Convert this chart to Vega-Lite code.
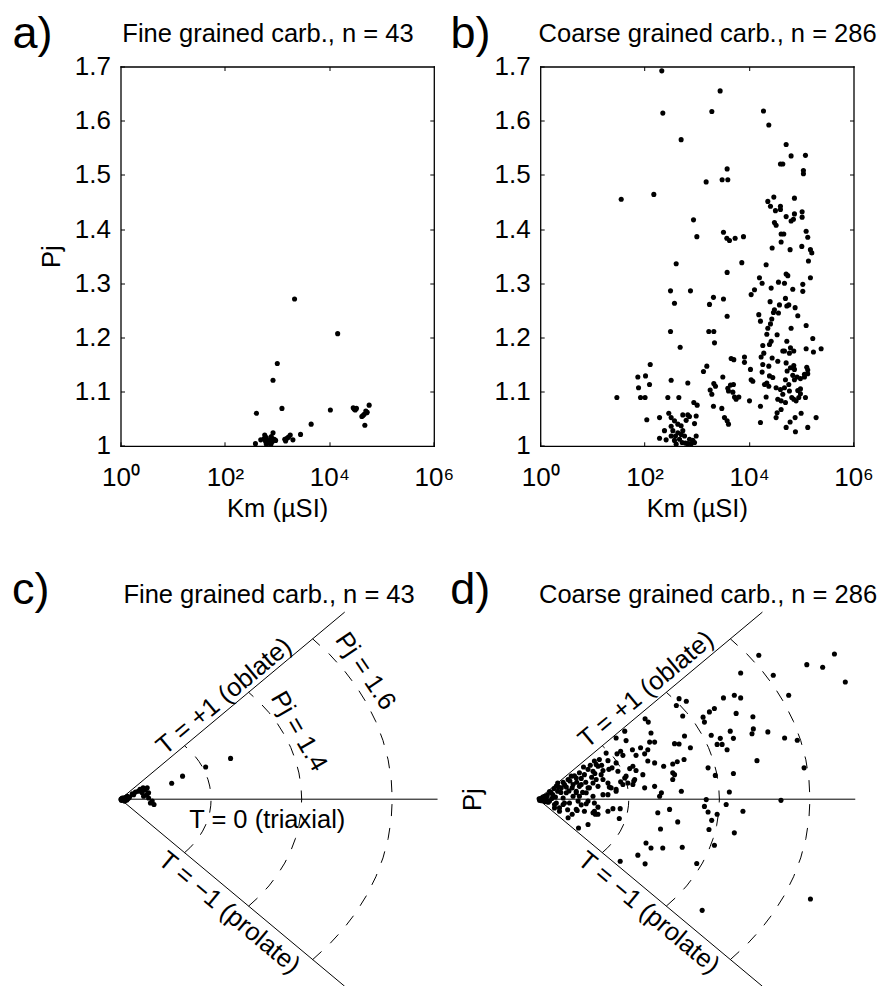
{
"$schema": "https://vega.github.io/schema/vega-lite/v6.json",
"padding": {"left": 11.5, "top": 11.5, "right": 5, "bottom": 0},
"background": "white",
"config": {
 "font": "Liberation Sans",
 "view": {"stroke": null},
 "axis": {"labelFont": "Liberation Sans", "labelFontSize": 26, "labelColor": "black", "titleFont": "Liberation Sans", "titleFontSize": 25.5, "titleFontWeight": "normal", "titleColor": "black", "domainColor": "black", "domainWidth": 1.3, "domainCap": "square", "tickColor": "black", "tickWidth": 1, "tickSize": -4, "grid": false},
 "text": {"font": "Liberation Sans", "fontSize": 25.5, "color": "black"}
},
"datasets": {
 "fine_km": [{"km":2154,"pj":1.271},{"km":14420,"pj":1.207},{"km":1007,"pj":1.152},{"km":833,"pj":1.121},{"km":401,"pj":1.06},{"km":1236,"pj":1.069},{"km":10450,"pj":1.066},{"km":4477,"pj":1.04},{"km":2805,"pj":1.021},{"km":28640,"pj":1.07},{"km":31270,"pj":1.066},{"km":29800,"pj":1.068},{"km":57800,"pj":1.075},{"km":49900,"pj":1.064},{"km":46400,"pj":1.058},{"km":41900,"pj":1.054},{"km":51600,"pj":1.061},{"km":47800,"pj":1.038},{"km":384,"pj":1.004},{"km":485,"pj":1.011},{"km":578,"pj":1.02},{"km":622,"pj":1.015},{"km":650,"pj":1.006},{"km":719,"pj":1.01},{"km":774,"pj":1.017},{"km":834,"pj":1.024},{"km":809,"pj":1.008},{"km":935,"pj":1.01},{"km":1452,"pj":1.009},{"km":1538,"pj":1.014},{"km":1782,"pj":1.02},{"km":2004,"pj":1.011},{"km":622,"pj":1.003},{"km":700,"pj":1.005},{"km":560,"pj":1.013},{"km":880,"pj":1.012},{"km":1400,"pj":1.012},{"km":33000,"pj":1.069},{"km":44000,"pj":1.056},{"km":53000,"pj":1.062},{"km":760,"pj":1.003},{"km":600,"pj":1.008},{"km":1650,"pj":1.016}],
 "coarse_km": [{"km":213,"pj":1.692},{"km":223,"pj":1.614},{"km":2793,"pj":1.655},{"km":1936,"pj":1.617},{"km":500,"pj":1.565},{"km":35.6,"pj":1.455},{"km":150,"pj":1.464},{"km":1507,"pj":1.487},{"km":3048,"pj":1.491},{"km":3917,"pj":1.491},{"km":3802,"pj":1.511},{"km":863,"pj":1.417},{"km":1000,"pj":1.386},{"km":3236,"pj":1.394},{"km":3750,"pj":1.383},{"km":4217,"pj":1.379},{"km":5408,"pj":1.383},{"km":7816,"pj":1.386},{"km":18880,"pj":1.618},{"km":23880,"pj":1.592},{"km":51290,"pj":1.556},{"km":63830,"pj":1.535},{"km":120200,"pj":1.536},{"km":39900,"pj":1.52},{"km":44260,"pj":1.52},{"km":109900,"pj":1.508},{"km":109900,"pj":1.502},{"km":22860,"pj":1.451},{"km":25700,"pj":1.442},{"km":29790,"pj":1.459},{"km":31990,"pj":1.434},{"km":39900,"pj":1.436},{"km":39900,"pj":1.442},{"km":73960,"pj":1.457},{"km":51290,"pj":1.423},{"km":63830,"pj":1.415},{"km":70790,"pj":1.418},{"km":73960,"pj":1.428},{"km":103800,"pj":1.432},{"km":103800,"pj":1.422},{"km":30620,"pj":1.412},{"km":32960,"pj":1.407},{"km":41110,"pj":1.391},{"km":46240,"pj":1.391},{"km":41110,"pj":1.376},{"km":123900,"pj":1.396},{"km":133000,"pj":1.385},{"km":27670,"pj":1.365},{"km":61090,"pj":1.362},{"km":102300,"pj":1.368},{"km":149600,"pj":1.362},
 {"km":402,"pj":1.336},{"km":313,"pj":1.286},{"km":373,"pj":1.263},{"km":755,"pj":1.286},{"km":313,"pj":1.211},{"km":479,"pj":1.182},{"km":128,"pj":1.15},{"km":74.1,"pj":1.127},{"km":104,"pj":1.129},{"km":124,"pj":1.113},{"km":76.4,"pj":1.107},{"km":83.4,"pj":1.089},{"km":102,"pj":1.089},{"km":29.4,"pj":1.089},{"km":110,"pj":1.048},{"km":322,"pj":1.121},{"km":671,"pj":1.116},{"km":278,"pj":1.089},{"km":452,"pj":1.089},{"km":193,"pj":1.052},{"km":290,"pj":1.06},{"km":193,"pj":1.014},{"km":240,"pj":1.028},{"km":258,"pj":1.011},{"km":322,"pj":1.052},{"km":373,"pj":1.046},{"km":322,"pj":1.036},{"km":347,"pj":1.028},{"km":390,"pj":1.018},{"km":432,"pj":1.024},{"km":432,"pj":1.04},{"km":500,"pj":1.037},{"km":538,"pj":1.057},{"km":671,"pj":1.057},{"km":624,"pj":1.047},{"km":723,"pj":1.054},{"km":902,"pj":1.041},{"km":971,"pj":1.055},{"km":322,"pj":1.018},{"km":373,"pj":1.01},{"km":466,"pj":1.012},{"km":524,"pj":1.006},{"km":500,"pj":1.021},{"km":581,"pj":1.018},{"km":671,"pj":1.004},{"km":723,"pj":1.012},{"km":838,"pj":1.01},{"km":971,"pj":1.018},{"km":538,"pj":1.028},{"km":875,"pj":1.08},{"km":1014,"pj":1.075},{"km":605,"pj":1.005},{"km":402,"pj":1.003},{"km":778,"pj":1.004},{"km":902,"pj":1.006},
 {"km":1746,"pj":1.261},{"km":2080,"pj":1.274},{"km":3236,"pj":1.271},{"km":3802,"pj":1.32},{"km":3802,"pj":1.239},{"km":7261,"pj":1.338},{"km":1694,"pj":1.211},{"km":2113,"pj":1.211},{"km":2178,"pj":1.19},{"km":1552,"pj":1.147},{"km":1340,"pj":1.137},{"km":1799,"pj":1.103},{"km":1936,"pj":1.095},{"km":2113,"pj":1.115},{"km":2275,"pj":1.11},{"km":2080,"pj":1.073},{"km":3006,"pj":1.069},{"km":3141,"pj":1.127},{"km":3381,"pj":1.052},{"km":3802,"pj":1.046},{"km":4036,"pj":1.04},{"km":4539,"pj":1.161},{"km":5105,"pj":1.159},{"km":3917,"pj":1.106},{"km":4406,"pj":1.112},{"km":4036,"pj":1.101},{"km":4887,"pj":1.099},{"km":5260,"pj":1.09},{"km":5649,"pj":1.086},{"km":6368,"pj":1.09},{"km":5023,"pj":1.113},{"km":8166,"pj":1.164},{"km":8166,"pj":1.154},{"km":10190,"pj":1.083},{"km":10640,"pj":1.141},{"km":10960,"pj":1.122},{"km":11800,"pj":1.119},{"km":10960,"pj":1.279},{"km":12710,"pj":1.288},{"km":15810,"pj":1.31},{"km":17780,"pj":1.3},
 {"km":15350,"pj":1.242},{"km":16520,"pj":1.23},{"km":16520,"pj":1.073},{"km":16520,"pj":1.043},{"km":17020,"pj":1.164},{"km":18320,"pj":1.15},{"km":17780,"pj":1.136},{"km":18320,"pj":1.185},{"km":19140,"pj":1.171},{"km":21230,"pj":1.334},{"km":21880,"pj":1.206},{"km":22860,"pj":1.217},{"km":23880,"pj":1.147},{"km":24600,"pj":1.129},{"km":21880,"pj":1.116},{"km":21230,"pj":1.09},{"km":19720,"pj":1.113},{"km":23880,"pj":1.11},{"km":26490,"pj":1.291},{"km":25290,"pj":1.266},{"km":25700,"pj":1.225},{"km":27230,"pj":1.234},{"km":26490,"pj":1.193},{"km":24600,"pj":1.187},{"km":27670,"pj":1.162},{"km":28440,"pj":1.126},{"km":29310,"pj":1.246},{"km":30620,"pj":1.251},{"km":32960,"pj":1.107},{"km":34430,"pj":1.205},{"km":35480,"pj":1.156},{"km":36560,"pj":1.302},{"km":38190,"pj":1.26},{"km":36560,"pj":1.245},{"km":35480,"pj":1.086},{"km":34430,"pj":1.061},{"km":32960,"pj":1.052},{"km":39900,"pj":1.104},{"km":41110,"pj":1.083},{"km":41110,"pj":1.067},{"km":44260,"pj":1.095},{"km":44260,"pj":1.175},{"km":47640,"pj":1.175},{"km":47640,"pj":1.3},{"km":49770,"pj":1.272},{"km":51290,"pj":1.317},{"km":55210,"pj":1.314},{"km":52840,"pj":1.258},{"km":52840,"pj":1.193},{"km":51290,"pj":1.153},{"km":53580,"pj":1.138},{"km":49770,"pj":1.122},{"km":47640,"pj":1.107},{"km":49770,"pj":1.08},{"km":51290,"pj":1.034},{"km":57680,"pj":1.26},{"km":59290,"pj":1.171},{"km":62090,"pj":1.181},{"km":62090,"pj":1.144},{"km":57680,"pj":1.113},{"km":59290,"pj":1.101},{"km":61090,"pj":1.044},{"km":63830,"pj":1.217},{"km":68710,"pj":1.289},{"km":71780,"pj":1.175},{"km":71780,"pj":1.148},{"km":68710,"pj":1.13},{"km":65770,"pj":1.089},{"km":71780,"pj":1.086},{"km":73960,"pj":1.141},{"km":73960,"pj":1.122},{"km":76210,"pj":1.255},{"km":77270,"pj":1.026},{"km":76210,"pj":1.052},{"km":79620,"pj":1.083},{"km":83180,"pj":1.127},{"km":85700,"pj":1.24},{"km":85700,"pj":1.102},{"km":89540,"pj":1.089},{"km":96380,"pj":1.124},{"km":96380,"pj":1.096},{"km":99310,"pj":1.06},{"km":106900,"pj":1.298},{"km":115100,"pj":1.132},{"km":115100,"pj":1.127},{"km":120200,"pj":1.089},{"km":123900,"pj":1.222},{"km":123900,"pj":1.179},{"km":127400,"pj":1.145},{"km":133000,"pj":1.14},{"km":133000,"pj":1.133},{"km":133000,"pj":1.034},{"km":137100,"pj":1.341},{"km":149600,"pj":1.31},{"km":158900,"pj":1.356},{"km":166000,"pj":1.198},{"km":171000,"pj":1.173},{"km":192300,"pj":1.052},{"km":239900,"pj":1.179},{"km":96380,"pj":1.105},{"km":106900,"pj":1.285}],
 "fine_t": [{"x":0.243,"y":0.108},{"x":0.188,"y":0.085},{"x":0.137,"y":0.061},{"x":0.113,"y":0.042},{"x":0.007,"y":0},{"x":0.004,"y":0.003},{"x":0.009,"y":-0.005},{"x":0.015,"y":0.008},{"x":0.018,"y":0.003},{"x":0.026,"y":0.014},{"x":0.029,"y":0.012},{"x":0.033,"y":0.019},{"x":0.043,"y":0.026},{"x":0.05,"y":0.03},{"x":0.059,"y":0.03},{"x":0.062,"y":0.017},{"x":0.048,"y":0.017},{"x":0.051,"y":0.008},{"x":0.062,"y":0.003},{"x":0.07,"y":-0.005},{"x":0.074,"y":-0.014},{"x":0.066,"y":-0.01},{"x":0.001,"y":0},{"x":0.002,"y":-0.003},{"x":0.011,"y":-0.003},{"x":0.005,"y":0.001},{"x":0.003,"y":-0.001},{"x":0.008,"y":0.002},{"x":0.012,"y":0.001},{"x":0.006,"y":-0.002},{"x":0.01,"y":0.004},{"x":0.014,"y":-0.002},{"x":0.02,"y":0.006},{"x":0.004,"y":0},{"x":0.009,"y":0},{"x":0.013,"y":0.005},{"x":0.002,"y":0.001},{"x":0.007,"y":0.003},{"x":0.016,"y":0.001},{"x":0.045,"y":0.022},{"x":0.055,"y":0.025},{"x":0.039,"y":0.021},{"x":0.058,"y":0.012}],
 "coarse_t": [{"x":0.487,"y":0.381},{"x":0.447,"y":0.334},{"x":0.519,"y":0.328},{"x":0.593,"y":0.356},{"x":0.628,"y":0.349},{"x":0.654,"y":0.384},{"x":0.678,"y":0.31},{"x":0.553,"y":0.275},{"x":0.409,"y":0.268},{"x":0.433,"y":0.275},{"x":0.447,"y":0.268},{"x":0.311,"y":0.266},{"x":0.327,"y":0.259},{"x":0.305,"y":0.248},{"x":0.319,"y":0.22},{"x":0.378,"y":0.231},{"x":0.389,"y":0.24},{"x":0.364,"y":0.217},{"x":0.367,"y":0.204},{"x":0.437,"y":0.227},{"x":0.474,"y":0.218},{"x":0.475,"y":0.186},{"x":0.472,"y":0.173},{"x":0.507,"y":0.178},{"x":0.544,"y":0.162},{"x":0.572,"y":0.156},{"x":0.424,"y":0.18},{"x":0.431,"y":0.161},{"x":0.402,"y":0.161},{"x":0.382,"y":0.169},{"x":0.395,"y":0.145},{"x":0.406,"y":0.145},{"x":0.417,"y":0.131},{"x":0.336,"y":0.136},{"x":0.323,"y":0.167},{"x":0.301,"y":0.147},{"x":0.311,"y":0.146},{"x":0.249,"y":0.175},{"x":0.257,"y":0.151},{"x":0.246,"y":0.151},{"x":0.242,"y":0.131},{"x":0.236,"y":0.213},{"x":0.243,"y":0.204},{"x":0.483,"y":0.102},{"x":0.587,"y":0.083},{"x":0.375,"y":0.083},{"x":0.322,"y":0.105},{"x":0.307,"y":0.099},{"x":0.297,"y":0.093},{"x":0.277,"y":0.087},{"x":0.257,"y":0.096},{"x":0.242,"y":0.101},{"x":0.391,"y":0.063},{"x":0.431,"y":0.068},{"x":0.422,"y":0.019},{"x":0.371,"y":-0.001},{"x":0.367,"y":-0.019},{"x":0.415,"y":-0.014},{"x":0.375,"y":-0.034},{"x":0.395,"y":-0.04},{"x":0.383,"y":-0.056},{"x":0.377,"y":-0.08},{"x":0.452,"y":-0.032},{"x":0.433,"y":-0.089},{"x":0.536,"y":-0.003},{"x":0.389,"y":-0.122},{"x":0.35,"y":-0.17},{"x":0.362,"y":-0.294},{"x":0.601,"y":-0.264},{"x":0.318,"y":-0.127},{"x":0.275,"y":-0.129},{"x":0.249,"y":-0.129},{"x":0.22,"y":-0.148},{"x":0.236,"y":-0.171},{"x":0.181,"y":-0.164},{"x":0.29,"y":-0.027},{"x":0.264,"y":-0.036},{"x":0.308,"y":-0.06},{"x":0.27,"y":-0.079},{"x":0.316,"y":0.021},{"x":0.297,"y":0.052},{"x":0.268,"y":0.008},{"x":0.272,"y":0.017},{"x":0.235,"y":0.03},{"x":0.257,"y":0.034},{"x":0.165,"y":-0.025},{"x":0.181,"y":-0.025},{"x":0.154,"y":-0.032},{"x":0.179,"y":-0.051},{"x":0.126,"y":-0.04},{"x":0.121,"y":-0.036},{"x":0.11,"y":-0.067},{"x":0.089,"y":-0.076},{"x":0.086,"y":-0.03},{"x":0.066,"y":-0.049},{"x":0.102,"y":-0.032},{"x":0.209,"y":0.039},{"x":0.213,"y":0.052},{"x":0.231,"y":0.065},{"x":0.191,"y":0.056},{"x":0.187,"y":0.039},{"x":0.172,"y":0.026},{"x":0.157,"y":0.032},{"x":0.154,"y":0.012},{"x":0.139,"y":0.065},{"x":0.128,"y":0.052},{"x":0.11,"y":0.03},{"x":0.095,"y":0.039},{"x":0.084,"y":0.017},{"x":0.088,"y":-0.005},{"x":0.11,"y":-0.005},{"x":0.124,"y":-0.01},{"x":0.132,"y":-0.021},{"x":0.047,"y":-0.023},{"x":0.058,"y":-0.01},{"x":0.036,"y":-0.014},{"x":0.194,"y":0.155},{"x":0.208,"y":0.131},{"x":0.226,"y":0.136},{"x":0.235,"y":0.12},{"x":0.216,"y":0.116},{"x":0.182,"y":0.127},{"x":0.187,"y":0.116},{"x":0.174,"y":0.12},{"x":0.297,"y":0.07},{"x":0.202,"y":0.081},{"x":0.216,"y":0.076},{"x":0.194,"y":0.061},{"x":0.182,"y":0.046},{"x":0.198,"y":0.043},{"x":0.211,"y":0.048},{"x":0.15,"y":0.122},{"x":0.154,"y":0.102},{"x":0.135,"y":0.105},{"x":0.124,"y":0.101},{"x":0.172,"y":0.096},{"x":0.163,"y":0.083},{"x":0.176,"y":0.074},{"x":0.156,"y":0.079},{"x":0.143,"y":0.076},{"x":0.132,"y":0.087},{"x":0.121,"y":0.074},{"x":0.11,"y":0.079},{"x":0.102,"y":0.065},{"x":0.091,"y":0.07},{"x":0.084,"y":0.056},{"x":0.073,"y":0.061},{"x":0.066,"y":0.052},{"x":0.143,"y":0.052},{"x":0.154,"y":0.043},{"x":0.161,"y":0.03},{"x":0.172,"y":0.021},{"x":0.132,"y":0.034},{"x":0.121,"y":0.043},{"x":0.113,"y":0.03},{"x":0.106,"y":0.017},{"x":0.091,"y":0.034},{"x":0.077,"y":0.039},{"x":0.058,"y":0.039},{"x":0.051,"y":0.03},{"x":0.043,"y":0.021},{"x":0.032,"y":0.012},{"x":0.062,"y":0.017},{"x":0.077,"y":0.008},{"x":0.091,"y":0.008},{"x":0.121,"y":0.008},{"x":0.143,"y":0.012},{"x":0.018,"y":0.003},{"x":0.01,"y":-0.001},{"x":0.025,"y":-0.005},{"x":0.04,"y":-0.01},{"x":0.055,"y":-0.014},{"x":0.036,"y":-0.023},{"x":0.047,"y":-0.032},{"x":0.084,"y":-0.027},{"x":0.124,"y":-0.032},{"x":0.132,"y":-0.04},{"x":0.106,"y":-0.012},{"x":0.238,"y":-0.116},{"x":0.055,"y":0.003},{"x":0.069,"y":-0.01},{"x":0.003,"y":-0.003},{"x":0.014,"y":0.008},{"x":0.084,"y":0.021},{"x":0.043,"y":0.043},{"x":0.191,"y":0.18},{"x":0.172,"y":0.162},{"x":0.128,"y":0.092},{"x":0.209,"y":0.087},{"x":0.301,"y":0.065},{"x":0.005,"y":0.002},{"x":0.008,"y":-0.004},{"x":0.012,"y":0.004},{"x":0.015,"y":-0.006},{"x":0.02,"y":0.01},{"x":0.022,"y":-0.008},{"x":0.028,"y":0.018},{"x":0.03,"y":0.002},{"x":0.035,"y":0.028},{"x":0.038,"y":0.006},{"x":0.045,"y":0.032},{"x":0.05,"y":0.018},{"x":0.055,"y":0.045},{"x":0.062,"y":0.032},{"x":0.068,"y":0.022},{"x":0.07,"y":0.048},{"x":0.075,"y":0.03},{"x":0.08,"y":0.062},{"x":0.085,"y":0.045},{"x":0.095,"y":0.055},{"x":0.1,"y":0.085},{"x":0.105,"y":0.045},{"x":0.115,"y":0.09},{"x":0.118,"y":0.058},{"x":0.125,"y":0.068},{"x":0.14,"y":0.09},{"x":0.098,"y":0.018},{"x":0.065,"y":-0.028},{"x":0.075,"y":-0.04},{"x":0.095,"y":-0.015},{"x":0.007,"y":0},{"x":0.002,"y":0.001},{"x":0.01,"y":0.006},{"x":0.025,"y":0.02},{"x":0.04,"y":0.035}],
 "guides": [{"x":0,"y":0,"x2":0.7,"y2":0},{"x":0,"y":0,"x2":0.495,"y2":0.495},{"x":0,"y":0,"x2":0.495,"y2":-0.495}],
 "arcs": [
  {"r":0.2,"a":-45,"x":0.14142,"y":-0.14142},{"r":0.2,"a":-40,"x":0.15321,"y":-0.12856},{"r":0.2,"a":-35,"x":0.16383,"y":-0.11472},{"r":0.2,"a":-30,"x":0.17321,"y":-0.1},{"r":0.2,"a":-25,"x":0.18126,"y":-0.08452},{"r":0.2,"a":-20,"x":0.18794,"y":-0.0684},{"r":0.2,"a":-15,"x":0.19319,"y":-0.05176},{"r":0.2,"a":-10,"x":0.19696,"y":-0.03473},{"r":0.2,"a":-5,"x":0.19924,"y":-0.01743},{"r":0.2,"a":0,"x":0.2,"y":0},{"r":0.2,"a":5,"x":0.19924,"y":0.01743},{"r":0.2,"a":10,"x":0.19696,"y":0.03473},{"r":0.2,"a":15,"x":0.19319,"y":0.05176},{"r":0.2,"a":20,"x":0.18794,"y":0.0684},{"r":0.2,"a":25,"x":0.18126,"y":0.08452},{"r":0.2,"a":30,"x":0.17321,"y":0.1},{"r":0.2,"a":35,"x":0.16383,"y":0.11472},{"r":0.2,"a":40,"x":0.15321,"y":0.12856},{"r":0.2,"a":45,"x":0.14142,"y":0.14142},
  {"r":0.4,"a":-45,"x":0.28284,"y":-0.28284},{"r":0.4,"a":-40,"x":0.30642,"y":-0.25712},{"r":0.4,"a":-35,"x":0.32766,"y":-0.22943},{"r":0.4,"a":-30,"x":0.34641,"y":-0.2},{"r":0.4,"a":-25,"x":0.36252,"y":-0.16905},{"r":0.4,"a":-20,"x":0.37588,"y":-0.13681},{"r":0.4,"a":-15,"x":0.38637,"y":-0.10353},{"r":0.4,"a":-10,"x":0.39392,"y":-0.06946},{"r":0.4,"a":-5,"x":0.39848,"y":-0.03486},{"r":0.4,"a":0,"x":0.4,"y":0},{"r":0.4,"a":5,"x":0.39848,"y":0.03486},{"r":0.4,"a":10,"x":0.39392,"y":0.06946},{"r":0.4,"a":15,"x":0.38637,"y":0.10353},{"r":0.4,"a":20,"x":0.37588,"y":0.13681},{"r":0.4,"a":25,"x":0.36252,"y":0.16905},{"r":0.4,"a":30,"x":0.34641,"y":0.2},{"r":0.4,"a":35,"x":0.32766,"y":0.22943},{"r":0.4,"a":40,"x":0.30642,"y":0.25712},{"r":0.4,"a":45,"x":0.28284,"y":0.28284},
  {"r":0.6,"a":-45,"x":0.42426,"y":-0.42426},{"r":0.6,"a":-40,"x":0.45962,"y":-0.38567},{"r":0.6,"a":-35,"x":0.49149,"y":-0.34415},{"r":0.6,"a":-30,"x":0.51962,"y":-0.3},{"r":0.6,"a":-25,"x":0.54379,"y":-0.25357},{"r":0.6,"a":-20,"x":0.56381,"y":-0.20521},{"r":0.6,"a":-15,"x":0.57956,"y":-0.15529},{"r":0.6,"a":-10,"x":0.59089,"y":-0.10419},{"r":0.6,"a":-5,"x":0.59771,"y":-0.0523},{"r":0.6,"a":0,"x":0.6,"y":0},{"r":0.6,"a":5,"x":0.59771,"y":0.0523},{"r":0.6,"a":10,"x":0.59089,"y":0.10419},{"r":0.6,"a":15,"x":0.57956,"y":0.15529},{"r":0.6,"a":20,"x":0.56381,"y":0.20521},{"r":0.6,"a":25,"x":0.54379,"y":0.25357},{"r":0.6,"a":30,"x":0.51962,"y":0.3},{"r":0.6,"a":35,"x":0.49149,"y":0.34415},{"r":0.6,"a":40,"x":0.45962,"y":0.38567},{"r":0.6,"a":45,"x":0.42426,"y":0.42426}
 ]
},
"columns": 2,
"spacing": {"row": 163.7, "column": 105.7},
"bounds": "flush",
"concat": [
 {
  "width": 313.3, "height": 379.3,
  "resolve": {"axis": {"x": "independent", "y": "independent"}},
  "layer": [
   {"data": {"name": "fine_km"},
    "mark": {"type": "point", "filled": true, "color": "black", "opacity": 1, "size": 26},
    "encoding": {
     "x": {"field": "km", "type": "quantitative", "scale": {"type": "log", "domain": [1, 1000000], "nice": false},
      "axis": {"orient": "bottom", "values": [1, 100, 10000, 1000000], "labelExpr": "datum.value < 10 ? '10⁰' : datum.value < 1000 ? '10²' : datum.value < 100000 ? '10⁴' : '10⁶'", "labelFlush": false, "labelOverlap": false, "labelBaseline": "alphabetic", "labelPadding": 44, "title": "Km (µSI)", "titlePadding": 6}},
     "y": {"field": "pj", "type": "quantitative", "scale": {"domain": [1, 1.7], "nice": false, "zero": false},
      "axis": {"orient": "left", "values": [1, 1.1, 1.2, 1.3, 1.4, 1.5, 1.6, 1.7], "format": ".1~f", "labelPadding": 14, "labelOverlap": false, "title": "Pj", "titlePadding": 10}}
    }},
   {"data": {"name": "fine_km"},
    "mark": {"type": "point", "opacity": 0},
    "encoding": {
     "x": {"field": "km", "type": "quantitative", "scale": {"type": "log", "domain": [1, 1000000], "nice": false}, "axis": {"orient": "top", "values": [100, 10000], "labels": false, "title": null}},
     "y": {"field": "pj", "type": "quantitative", "scale": {"domain": [1, 1.7], "nice": false, "zero": false}, "axis": {"orient": "right", "values": [1.1, 1.2, 1.3, 1.4, 1.5, 1.6], "labels": false, "title": null}}
    }},
   {"data": {"values": [{}]},
    "mark": {"type": "text", "text": "a)", "fontSize": 45, "align": "left", "baseline": "alphabetic"},
    "encoding": {
     "x": {"datum": 0.0085, "type": "quantitative", "scale": {"type": "log", "domain": [1, 1000000], "nice": false}, "axis": null},
     "y": {"datum": 1.735, "type": "quantitative", "scale": {"domain": [1, 1.7], "nice": false, "zero": false}, "axis": null}
    }},
   {"data": {"values": [{}]},
    "mark": {"type": "text", "text": "Fine grained carb., n = 43", "fontSize": 25.5, "align": "center", "baseline": "alphabetic"},
    "encoding": {
     "x": {"datum": 667, "type": "quantitative", "scale": {"type": "log", "domain": [1, 1000000], "nice": false}, "axis": null},
     "y": {"datum": 1.745, "type": "quantitative", "scale": {"domain": [1, 1.7], "nice": false, "zero": false}, "axis": null}
    }}
  ]
 },
 {
  "width": 313.3, "height": 379.3,
  "resolve": {"axis": {"x": "independent", "y": "independent"}},
  "layer": [
   {"data": {"name": "coarse_km"},
    "mark": {"type": "point", "filled": true, "color": "black", "opacity": 1, "size": 26},
    "encoding": {
     "x": {"field": "km", "type": "quantitative", "scale": {"type": "log", "domain": [1, 1000000], "nice": false},
      "axis": {"orient": "bottom", "values": [1, 100, 10000, 1000000], "labelExpr": "datum.value < 10 ? '10⁰' : datum.value < 1000 ? '10²' : datum.value < 100000 ? '10⁴' : '10⁶'", "labelFlush": false, "labelOverlap": false, "labelBaseline": "alphabetic", "labelPadding": 44, "title": "Km (µSI)", "titlePadding": 6}},
     "y": {"field": "pj", "type": "quantitative", "scale": {"domain": [1, 1.7], "nice": false, "zero": false},
      "axis": {"orient": "left", "values": [1, 1.1, 1.2, 1.3, 1.4, 1.5, 1.6, 1.7], "format": ".1~f", "labelPadding": 14, "labelOverlap": false, "title": null}}
    }},
   {"data": {"name": "coarse_km"},
    "mark": {"type": "point", "opacity": 0},
    "encoding": {
     "x": {"field": "km", "type": "quantitative", "scale": {"type": "log", "domain": [1, 1000000], "nice": false}, "axis": {"orient": "top", "values": [100, 10000], "labels": false, "title": null}},
     "y": {"field": "pj", "type": "quantitative", "scale": {"domain": [1, 1.7], "nice": false, "zero": false}, "axis": {"orient": "right", "values": [1.1, 1.2, 1.3, 1.4, 1.5, 1.6], "labels": false, "title": null}}
    }},
   {"data": {"values": [{}]},
    "mark": {"type": "text", "text": "b)", "fontSize": 45, "align": "left", "baseline": "alphabetic"},
    "encoding": {
     "x": {"datum": 0.0191, "type": "quantitative", "scale": {"type": "log", "domain": [1, 1000000], "nice": false}, "axis": null},
     "y": {"datum": 1.735, "type": "quantitative", "scale": {"domain": [1, 1.7], "nice": false, "zero": false}, "axis": null}
    }},
   {"data": {"values": [{}]},
    "mark": {"type": "text", "text": "Coarse grained carb., n = 286", "fontSize": 25.5, "align": "center", "baseline": "alphabetic"},
    "encoding": {
     "x": {"datum": 1607, "type": "quantitative", "scale": {"type": "log", "domain": [1, 1000000], "nice": false}, "axis": null},
     "y": {"datum": 1.745, "type": "quantitative", "scale": {"domain": [1, 1.7], "nice": false, "zero": false}, "axis": null}
    }}
  ]
 },
 {
  "width": 313.3, "height": 378,
  "resolve": {"axis": {"x": "independent", "y": "independent"}},
  "layer": [
   {"data": {"name": "guides"},
    "mark": {"type": "rule", "color": "black", "strokeWidth": 1},
    "encoding": {
     "x": {"field": "x", "type": "quantitative", "scale": {"domain": [0, 0.6917], "nice": false, "zero": false}, "axis": null},
     "y": {"field": "y", "type": "quantitative", "scale": {"domain": [-0.5, 0.5], "nice": false, "zero": false}, "axis": null},
     "x2": {"field": "x2"}, "y2": {"field": "y2"}
    }},
   {"data": {"name": "arcs"},
    "mark": {"type": "line", "color": "black", "strokeWidth": 1, "strokeDash": [12, 12]},
    "encoding": {
     "x": {"field": "x", "type": "quantitative", "scale": {"domain": [0, 0.6917], "nice": false, "zero": false}, "axis": null},
     "y": {"field": "y", "type": "quantitative", "scale": {"domain": [-0.5, 0.5], "nice": false, "zero": false}, "axis": null},
     "detail": {"field": "r", "type": "nominal"},
     "order": {"field": "a", "type": "quantitative"}
    }},
   {"data": {"name": "fine_t"},
    "mark": {"type": "point", "filled": true, "color": "black", "opacity": 1, "size": 26},
    "encoding": {
     "x": {"field": "x", "type": "quantitative", "scale": {"domain": [0, 0.6917], "nice": false, "zero": false}, "axis": null},
     "y": {"field": "y", "type": "quantitative", "scale": {"domain": [-0.5, 0.5], "nice": false, "zero": false}, "axis": null}
    }},
   {"data": {"values": [{}]},
    "mark": {"type": "text", "text": "c)", "fontSize": 45, "align": "left", "baseline": "alphabetic"},
    "encoding": {
     "x": {"datum": -0.2395, "type": "quantitative", "scale": {"domain": [0, 0.6917], "nice": false, "zero": false}, "axis": null},
     "y": {"datum": 0.516, "type": "quantitative", "scale": {"domain": [-0.5, 0.5], "nice": false, "zero": false}, "axis": null}
    }},
   {"data": {"values": [{}]},
    "mark": {"type": "text", "text": "Fine grained carb., n = 43", "fontSize": 25.5, "align": "center", "baseline": "alphabetic"},
    "encoding": {
     "x": {"datum": 0.328, "type": "quantitative", "scale": {"domain": [0, 0.6917], "nice": false, "zero": false}, "axis": null},
     "y": {"datum": 0.519, "type": "quantitative", "scale": {"domain": [-0.5, 0.5], "nice": false, "zero": false}, "axis": null}
    }},
   {"data": {"values": [{}]},
    "mark": {"type": "text", "text": "T = +1 (oblate)", "fontSize": 25.5, "align": "center", "baseline": "middle", "angle": -39.8},
    "encoding": {
     "x": {"datum": 0.2285, "type": "quantitative", "scale": {"domain": [0, 0.6917], "nice": false, "zero": false}, "axis": null},
     "y": {"datum": 0.2725, "type": "quantitative", "scale": {"domain": [-0.5, 0.5], "nice": false, "zero": false}, "axis": null}
    }},
   {"data": {"values": [{}]},
    "mark": {"type": "text", "text": "T = −1 (prolate)", "fontSize": 25.5, "align": "center", "baseline": "middle", "angle": 39.8},
    "encoding": {
     "x": {"datum": 0.24, "type": "quantitative", "scale": {"domain": [0, 0.6917], "nice": false, "zero": false}, "axis": null},
     "y": {"datum": -0.3, "type": "quantitative", "scale": {"domain": [-0.5, 0.5], "nice": false, "zero": false}, "axis": null}
    }},
   {"data": {"values": [{}]},
    "mark": {"type": "text", "text": "T = 0 (triaxial)", "fontSize": 25.5, "align": "center", "baseline": "alphabetic"},
    "encoding": {
     "x": {"datum": 0.324, "type": "quantitative", "scale": {"domain": [0, 0.6917], "nice": false, "zero": false}, "axis": null},
     "y": {"datum": -0.076, "type": "quantitative", "scale": {"domain": [-0.5, 0.5], "nice": false, "zero": false}, "axis": null}
    }},
   {"data": {"values": [{}]},
    "mark": {"type": "text", "text": "Pj = 1.4", "fontSize": 25.5, "align": "center", "baseline": "middle", "angle": 60},
    "encoding": {
     "x": {"datum": 0.394, "type": "quantitative", "scale": {"domain": [0, 0.6917], "nice": false, "zero": false}, "axis": null},
     "y": {"datum": 0.18, "type": "quantitative", "scale": {"domain": [-0.5, 0.5], "nice": false, "zero": false}, "axis": null}
    }},
   {"data": {"values": [{}]},
    "mark": {"type": "text", "text": "Pj = 1.6", "fontSize": 25.5, "align": "center", "baseline": "middle", "angle": 56},
    "encoding": {
     "x": {"datum": 0.541, "type": "quantitative", "scale": {"domain": [0, 0.6917], "nice": false, "zero": false}, "axis": null},
     "y": {"datum": 0.339, "type": "quantitative", "scale": {"domain": [-0.5, 0.5], "nice": false, "zero": false}, "axis": null}
    }}
  ]
 },
 {
  "width": 313.3, "height": 378,
  "resolve": {"axis": {"x": "independent", "y": "independent"}},
  "layer": [
   {"data": {"name": "guides"},
    "mark": {"type": "rule", "color": "black", "strokeWidth": 1},
    "encoding": {
     "x": {"field": "x", "type": "quantitative", "scale": {"domain": [0.0044, 0.6961], "nice": false, "zero": false}, "axis": null},
     "y": {"field": "y", "type": "quantitative", "scale": {"domain": [-0.5, 0.5], "nice": false, "zero": false}, "axis": {"title": "Pj", "labels": false, "ticks": false, "domain": true, "domainOpacity": 0, "titlePadding": 55}},
     "x2": {"field": "x2"}, "y2": {"field": "y2"}
    }},
   {"data": {"name": "arcs"},
    "mark": {"type": "line", "color": "black", "strokeWidth": 1, "strokeDash": [12, 12]},
    "encoding": {
     "x": {"field": "x", "type": "quantitative", "scale": {"domain": [0.0044, 0.6961], "nice": false, "zero": false}, "axis": null},
     "y": {"field": "y", "type": "quantitative", "scale": {"domain": [-0.5, 0.5], "nice": false, "zero": false}, "axis": null},
     "detail": {"field": "r", "type": "nominal"},
     "order": {"field": "a", "type": "quantitative"}
    }},
   {"data": {"name": "coarse_t"},
    "mark": {"type": "point", "filled": true, "color": "black", "opacity": 1, "size": 26},
    "encoding": {
     "x": {"field": "x", "type": "quantitative", "scale": {"domain": [0.0044, 0.6961], "nice": false, "zero": false}, "axis": null},
     "y": {"field": "y", "type": "quantitative", "scale": {"domain": [-0.5, 0.5], "nice": false, "zero": false}, "axis": null}
    }},
   {"data": {"values": [{}]},
    "mark": {"type": "text", "text": "d)", "fontSize": 45, "align": "left", "baseline": "alphabetic"},
    "encoding": {
     "x": {"datum": -0.194, "type": "quantitative", "scale": {"domain": [0.0044, 0.6961], "nice": false, "zero": false}, "axis": null},
     "y": {"datum": 0.516, "type": "quantitative", "scale": {"domain": [-0.5, 0.5], "nice": false, "zero": false}, "axis": null}
    }},
   {"data": {"values": [{}]},
    "mark": {"type": "text", "text": "Coarse grained carb., n = 286", "fontSize": 25.5, "align": "center", "baseline": "alphabetic"},
    "encoding": {
     "x": {"datum": 0.375, "type": "quantitative", "scale": {"domain": [0.0044, 0.6961], "nice": false, "zero": false}, "axis": null},
     "y": {"datum": 0.519, "type": "quantitative", "scale": {"domain": [-0.5, 0.5], "nice": false, "zero": false}, "axis": null}
    }},
   {"data": {"values": [{}]},
    "mark": {"type": "text", "text": "T = +1 (oblate)", "fontSize": 25.5, "align": "center", "baseline": "middle", "angle": -39.8},
    "encoding": {
     "x": {"datum": 0.238, "type": "quantitative", "scale": {"domain": [0.0044, 0.6961], "nice": false, "zero": false}, "axis": null},
     "y": {"datum": 0.29, "type": "quantitative", "scale": {"domain": [-0.5, 0.5], "nice": false, "zero": false}, "axis": null}
    }},
   {"data": {"values": [{}]},
    "mark": {"type": "text", "text": "T = −1 (prolate)", "fontSize": 25.5, "align": "center", "baseline": "middle", "angle": 39.8},
    "encoding": {
     "x": {"datum": 0.244, "type": "quantitative", "scale": {"domain": [0.0044, 0.6961], "nice": false, "zero": false}, "axis": null},
     "y": {"datum": -0.3, "type": "quantitative", "scale": {"domain": [-0.5, 0.5], "nice": false, "zero": false}, "axis": null}
    }}
  ]
 }
]
}
